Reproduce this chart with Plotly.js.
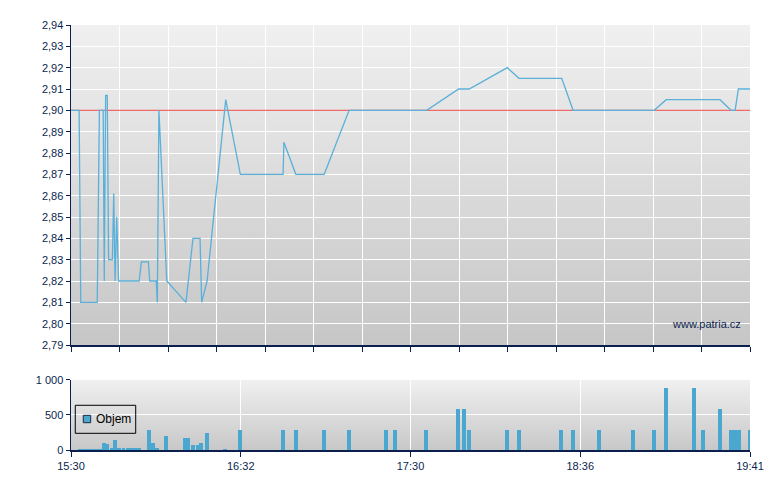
<!DOCTYPE html>
<html>
<head>
<meta charset="utf-8">
<script src="https://cdn.plot.ly/plotly-3.0.1.min.js"></script>
<style>
  html, body { margin: 0; padding: 0; background: #fff; }
  #chart { width: 780px; height: 490px; }
</style>
</head>
<body>
<div id="chart"></div>
<script>
// session axis runs 0..251 (15:30 - 19:41), labels at quarters
const sessionLength = 251;
const timeLabels = ['15:30', '16:32', '17:30', '18:36', '19:41'];

// price (trades)
const priceTime = [0, 3.0, 3.6, 9.7, 10.5, 11.9, 12.3, 12.8, 13.4, 13.9, 15.3, 15.8, 16.3, 16.9, 17.6,
  25.2, 26.0, 28.6, 29.1, 31.5, 31.9, 32.5, 35.4, 42.5, 45.1, 47.7, 48.3, 50.3, 57.2, 62.6,
  78.4, 78.7, 83.1, 93.6, 102.8, 131.5, 143.3, 147.2, 161.3, 165.6, 181.4, 185.6, 215.6,
  220.0, 239.9, 244.0, 245.5, 246.7, 251];
const priceValue = [2.90, 2.90, 2.81, 2.81, 2.90, 2.90, 2.82, 2.907, 2.907, 2.83, 2.83, 2.861, 2.82, 2.85, 2.82,
  2.82, 2.829, 2.829, 2.82, 2.82, 2.81, 2.90, 2.82, 2.81, 2.84, 2.84, 2.81, 2.82, 2.905, 2.87,
  2.87, 2.885, 2.87, 2.87, 2.90, 2.90, 2.91, 2.91, 2.92, 2.915, 2.915, 2.90, 2.90,
  2.905, 2.905, 2.90, 2.90, 2.91, 2.91];
const previousClose = 2.90;

// volume (Objem)
const volumeName = 'Objem';
const volumeTime = [3.4, 4.9, 6.4, 7.8, 9.3, 10.6, 12.1, 13.4, 15.1, 16.4, 17.9, 19.4, 20.9, 22.4, 23.8, 25.1,
  29.0, 30.4, 31.7, 35.1, 42.3, 43.4, 45.1, 46.8, 48.1, 50.3, 56.9, 62.5, 78.2, 83.2, 93.5,
  102.8, 116.4, 119.8, 131.2, 143.1, 145.3, 147.1, 161.2, 165.6, 181.1, 185.6, 195.2, 207.8,
  215.5, 220.0, 230.3, 233.6, 239.9, 244.0, 245.5, 246.8, 251];
const volumeValue = [20, 20, 20, 20, 20, 20, 100, 90, 25, 145, 30, 30, 30, 30, 30, 30,
  290, 100, 30, 200, 175, 175, 75, 75, 100, 245, 15, 290, 290, 290, 290,
  290, 290, 290, 290, 590, 590, 290, 290, 290, 290, 290, 290, 290,
  290, 880, 880, 290, 590, 290, 290, 290, 290];

const priceTicks = [];
for (let v = 2.79; v <= 2.9401; v += 0.01) priceTicks.push(+v.toFixed(2));
const quarterTicks = timeLabels.map((t, i) => i * sessionLength / 4);

function gradient(top, bottom) {
  const svg = '<svg xmlns="http://www.w3.org/2000/svg" width="10" height="100" preserveAspectRatio="none">' +
    '<defs><linearGradient id="g" x1="0" y1="0" x2="0" y2="1">' +
    '<stop offset="0" stop-color="' + top + '"/><stop offset="1" stop-color="' + bottom + '"/>' +
    '</linearGradient></defs><rect width="10" height="100" fill="url(#g)"/></svg>';
  return 'data:image/svg+xml;charset=utf-8,' + encodeURIComponent(svg);
}

const navy = '#0b1f4f';
const barColor = '#4aa8d0';
const tickFont = { family: 'Liberation Sans, Arial, sans-serif', size: 11, color: navy };

const data = [
  // previous close reference line, drawn under the price
  {
    x: [0, sessionLength], y: [previousClose, previousClose], type: 'scatter', mode: 'lines',
    line: { color: '#f06a6a', width: 1.3 },
    xaxis: 'x', yaxis: 'y', showlegend: false, hoverinfo: 'skip'
  },
  {
    x: priceTime, y: priceValue, type: 'scatter', mode: 'lines',
    line: { color: '#5ab0d8', width: 1.3 },
    xaxis: 'x', yaxis: 'y', showlegend: false
  },
  {
    x: volumeTime, y: volumeValue, type: 'bar', name: volumeName,
    width: 1.45,
    marker: { color: barColor, line: { width: 0 } },
    xaxis: 'x2', yaxis: 'y2', showlegend: false
  }
];

const layout = {
  width: 780, height: 490,
  margin: { l: 71, r: 30, t: 25, b: 40 },
  paper_bgcolor: '#ffffff',
  plot_bgcolor: 'rgba(0,0,0,0)',
  separators: ', ',
  font: tickFont,
  bargap: 0,
  showlegend: false,
  xaxis: {
    domain: [0, 1], range: [0, sessionLength], anchor: 'y',
    tick0: 0, dtick: sessionLength / 14,
    showticklabels: false, ticks: 'outside', ticklen: 5, tickcolor: navy,
    showgrid: true, gridcolor: '#ffffff', gridwidth: 1,
    showline: true, linecolor: navy, linewidth: 1.5,
    zeroline: false
  },
  yaxis: {
    domain: [0.247, 1], range: [2.79, 2.94], anchor: 'x',
    tickvals: priceTicks, tickformat: '.2f',
    ticks: 'outside', ticklen: 4, tickcolor: navy,
    showgrid: true, gridcolor: '#ffffff', gridwidth: 1,
    showline: true, linecolor: navy, linewidth: 1.5,
    zeroline: false, tickfont: tickFont
  },
  xaxis2: {
    domain: [0, 1], range: [0, sessionLength], anchor: 'y2',
    tickvals: quarterTicks, ticktext: timeLabels,
    ticks: 'outside', ticklen: 5, tickcolor: navy,
    showgrid: true, gridcolor: '#ffffff', gridwidth: 1,
    showline: true, linecolor: navy, linewidth: 1.5,
    zeroline: false, tickfont: tickFont
  },
  yaxis2: {
    domain: [0, 0.165], range: [0, 1000], anchor: 'x2',
    tickvals: [0, 500, 1000], tickformat: ',d',
    ticks: 'outside', ticklen: 4, tickcolor: navy,
    showgrid: true, gridcolor: '#ffffff', gridwidth: 1,
    showline: true, linecolor: navy, linewidth: 1.5,
    zeroline: false, tickfont: tickFont
  },
  shapes: [
    // legend box and key for the volume series
    {
      type: 'rect', xref: 'paper', yref: 'paper',
      x0: 0.0063, x1: 0.0953, y0: 0.0393, y1: 0.1052,
      line: { color: '#000000', width: 1 }, fillcolor: 'rgba(0,0,0,0)', layer: 'above'
    },
    {
      type: 'rect', xref: 'paper', yref: 'paper',
      x0: 0.0181, x1: 0.029, y0: 0.0642, y1: 0.0816,
      line: { color: '#1a2a40', width: 1 }, fillcolor: barColor, layer: 'above'
    }
  ],
  images: [
    {
      source: gradient('#f0f0f0', '#c6c6c6'), xref: 'x domain', yref: 'y domain',
      x: 0, y: 1, sizex: 1, sizey: 1, sizing: 'stretch', layer: 'below'
    },
    {
      source: gradient('#f0f0f0', '#c8c8c8'), xref: 'x2 domain', yref: 'y2 domain',
      x: 0, y: 1, sizex: 1, sizey: 1, sizing: 'stretch', layer: 'below'
    }
  ],
  annotations: [
    {
      text: 'www.patria.cz', xref: 'x domain', yref: 'y domain',
      x: 0.99, y: 0.065, xanchor: 'right', yanchor: 'middle', showarrow: false,
      font: { family: 'Liberation Sans, Arial, sans-serif', size: 11, color: navy }
    },
    {
      text: volumeName, xref: 'paper', yref: 'paper',
      x: 0.0345, y: 0.0725, xanchor: 'left', yanchor: 'middle', showarrow: false,
      font: { family: 'Liberation Sans, Arial, sans-serif', size: 12, color: '#000000' }
    }
  ]
};

Plotly.newPlot('chart', data, layout, { displayModeBar: false, staticPlot: true });
</script>
</body>
</html>
